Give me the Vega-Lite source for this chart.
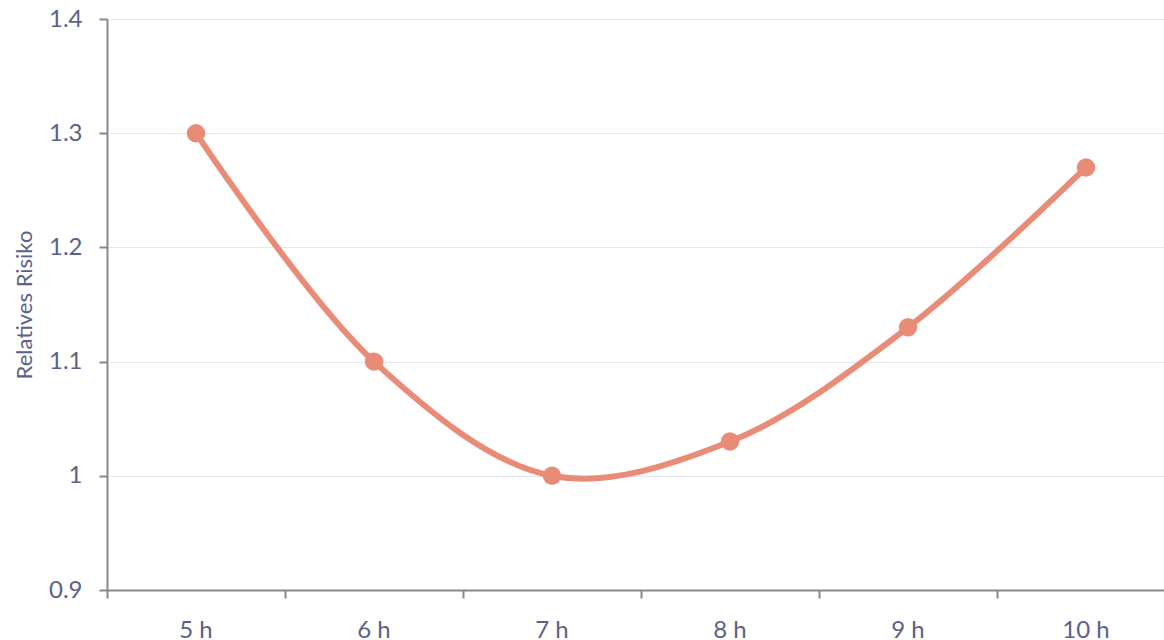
{
  "$schema": "https://vega.github.io/schema/vega-lite/v6.json",
  "width": 1068,
  "height": 571,
  "autosize": {"type": "none"},
  "padding": {"left": 107, "top": 19, "right": 0, "bottom": 50},
  "background": "white",
  "config": {
    "view": {"stroke": null},
    "font": "Lato",
    "axis": {
      "labelFont": "Lato",
      "labelFontSize": 24,
      "labelColor": "#5a6288",
      "titleFont": "Lato",
      "titleFontSize": 22,
      "titleFontWeight": "normal",
      "titleColor": "#5a6288",
      "domainColor": "#888888",
      "domainWidth": 2,
      "tickColor": "#888888",
      "tickWidth": 2,
      "tickSize": 8,
      "gridColor": "#e3e6f0",
      "gridWidth": 1
    }
  },
  "data": {
    "values": [
      {"dauer": "5 h", "risiko": 1.3},
      {"dauer": "6 h", "risiko": 1.1},
      {"dauer": "7 h", "risiko": 1.0},
      {"dauer": "8 h", "risiko": 1.03},
      {"dauer": "9 h", "risiko": 1.13},
      {"dauer": "10 h", "risiko": 1.27}
    ]
  },
  "encoding": {
    "x": {
      "field": "dauer",
      "type": "nominal",
      "sort": null,
      "scale": {"type": "band", "paddingInner": 0, "paddingOuter": 0},
      "axis": {
        "title": null,
        "labelAngle": 0,
        "labelPadding": 20,
        "bandPosition": 0,
        "grid": false,
        "ticks": true
      }
    },
    "y": {
      "field": "risiko",
      "type": "quantitative",
      "scale": {"domain": [0.9, 1.4], "zero": false, "nice": false},
      "axis": {
        "title": "Relatives Risiko",
        "values": [0.9, 1.0, 1.1, 1.2, 1.3, 1.4],
        "format": "~g",
        "labelPadding": 17,
        "titlePadding": 12,
        "grid": true
      }
    }
  },
  "layer": [
    {
      "mark": {"type": "line", "interpolate": "catmull-rom", "color": "#e98c77", "strokeWidth": 6}
    },
    {
      "mark": {"type": "point", "filled": true, "opacity": 1, "color": "#e98c77", "size": 340}
    }
  ]
}
